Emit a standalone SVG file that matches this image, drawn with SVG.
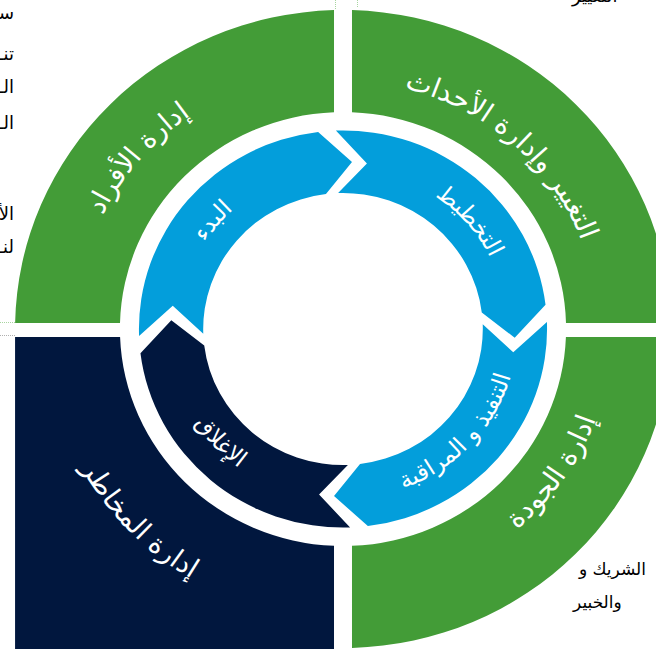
<svg xmlns="http://www.w3.org/2000/svg" width="656" height="649" viewBox="0 0 656 649">
<style>
.g{fill:#439C37}
.n{fill:#01173E}
.b{fill:#039EDB}
.lbl{font-family:"DejaVu Sans",sans-serif;fill:#ffffff}
.o{font-size:27px}
.r{font-size:23px}
.side{font-family:"DejaVu Sans",sans-serif;font-size:18px;fill:#000000}
.note{font-family:"DejaVu Sans",sans-serif;font-size:17px;fill:#000000}
.dot{fill:none;stroke-width:1;stroke-dasharray:1 1}
</style>
<defs>
<path id="pTL" d="M -226.51 127.63 A 260 260 0 0 1 91.48 -243.38"/>
<path id="pTR" d="M -118.34 -217.95 A 248 248 0 0 1 230.74 90.89"/>
<path id="pBR" d="M -67.81 253.07 A 262 262 0 0 0 214.62 -150.28"/>
<path id="pBL" d="M -260.65 -127.13 A 290 290 0 0 0 117.95 264.93"/>
<path id="pS1" d="M -139.26 78.79 A 160 160 0 0 1 56.03 -149.87"/>
<path id="pS2" d="M -58.12 -149.07 A 160 160 0 0 1 140.34 76.84"/>
<path id="pS3" d="M -66.42 156.49 A 170 170 0 0 0 151.47 -77.18"/>
<path id="pS4" d="M -153.93 -76.75 A 172 172 0 0 0 68.59 157.73"/>
<clipPath id="clipR"><rect x="573" y="540" width="83" height="109"/></clipPath>
</defs>

<g id="side-text">
<text class="side" x="14" y="19" text-anchor="end">ســـ</text>
<text class="side" x="14" y="60" text-anchor="end">تنـــ</text>
<text class="side" x="14" y="93" text-anchor="end">الـــ</text>
<text class="side" x="14" y="129" text-anchor="end">الـــ</text>
<text class="side" x="14" y="220" text-anchor="end">الأ</text>
<text class="side" x="14" y="253" text-anchor="end">لنـــ</text>
<text class="side" x="572" y="2">التغيير</text>
<g clip-path="url(#clipR)">
<text class="note" x="646" y="575" text-anchor="end">الشريك و</text>
</g>
<text class="note" x="573" y="608">والخبير</text>
</g>

<g id="guides">
<line class="dot" x1="335.5" y1="0" x2="335.5" y2="10" stroke="#A8D5A0"/>
<line class="dot" x1="357.5" y1="0" x2="357.5" y2="8" stroke="#A8D5A0"/>
<line class="dot" x1="0" y1="322.5" x2="15" y2="322.5" stroke="#A8D5A0"/>
<line class="dot" x1="0" y1="335.5" x2="15" y2="335.5" stroke="#B0B0B0"/>
</g>

<g transform="translate(343,329) scale(1.028,1)">
<g id="people-management">
<path class="g" d="M -318.94 -6 A 319 319 0 0 1 -8.75 -318.88 L -8.75 -216.82 A 217 217 0 0 0 -216.92 -6 Z"/>
<text class="lbl o" text-anchor="middle"><textPath href="#pTL" startOffset="50%">إدارة الأفراد</textPath></text>
</g>
<g id="change-events-management">
<path class="g" d="M 8.75 -318.88 A 319 319 0 0 1 318.94 -6 L 216.92 -6 A 217 217 0 0 0 8.75 -216.82 Z"/>
<text class="lbl o" text-anchor="middle"><textPath href="#pTR" startOffset="50%">التغيير وإدارة الأحداث</textPath></text>
</g>
<g id="quality-management">
<path class="g" d="M 318.90 8 A 319 319 0 0 1 8.75 318.88 L 8.75 216.82 A 217 217 0 0 0 216.85 8 Z"/>
<text class="lbl o" text-anchor="middle"><textPath href="#pBR" startOffset="50%">إدارة الجودة</textPath></text>
</g>
<g id="risk-management">
<path class="n" d="M -319 8 L -216.85 8 A 217 217 0 0 0 -8.75 216.82 L -8.75 322 L -319 322 Z"/>
<text class="lbl o" text-anchor="middle"><textPath href="#pBL" startOffset="50%">إدارة المخاطر</textPath></text>
</g>

<g id="initiation">
<path class="b" d="M -198.38 6.93 A 198.5 198.5 0 0 1 -24.19 -197.02 L 8.75 -167.02 L -16.57 -134.99 A 136 136 0 0 0 -135.92 4.75 L -165.62 -23.28 Z"/>
<text class="lbl r" text-anchor="middle"><textPath href="#pS1" startOffset="50%">البدء</textPath></text>
</g>
<g id="planning">
<path class="b" d="M -6.93 -198.38 A 198.5 198.5 0 0 1 197.02 -24.19 L 167.02 8.75 L 134.99 -16.57 A 136 136 0 0 0 -4.75 -135.92 L 23.28 -165.62 Z"/>
<text class="lbl r" text-anchor="middle"><textPath href="#pS2" startOffset="50%">التخطيط</textPath></text>
</g>
<g id="execution-monitoring">
<path class="b" d="M 198.38 -6.93 A 198.5 198.5 0 0 1 24.19 197.02 L -8.75 167.02 L 16.57 134.99 A 136 136 0 0 0 135.92 -4.75 L 165.62 23.28 Z"/>
<text class="lbl r" text-anchor="middle"><textPath href="#pS3" startOffset="50%">التنفيذ و المراقبة</textPath></text>
</g>
<g id="closing">
<path class="n" d="M 6.93 198.38 A 198.5 198.5 0 0 1 -197.02 24.19 L -167.02 -8.75 L -134.99 16.57 A 136 136 0 0 0 4.75 135.92 L -23.28 165.62 Z"/>
<text class="lbl r" text-anchor="middle"><textPath href="#pS4" startOffset="50%">الإغلاق</textPath></text>
</g>
</g>
</svg>
